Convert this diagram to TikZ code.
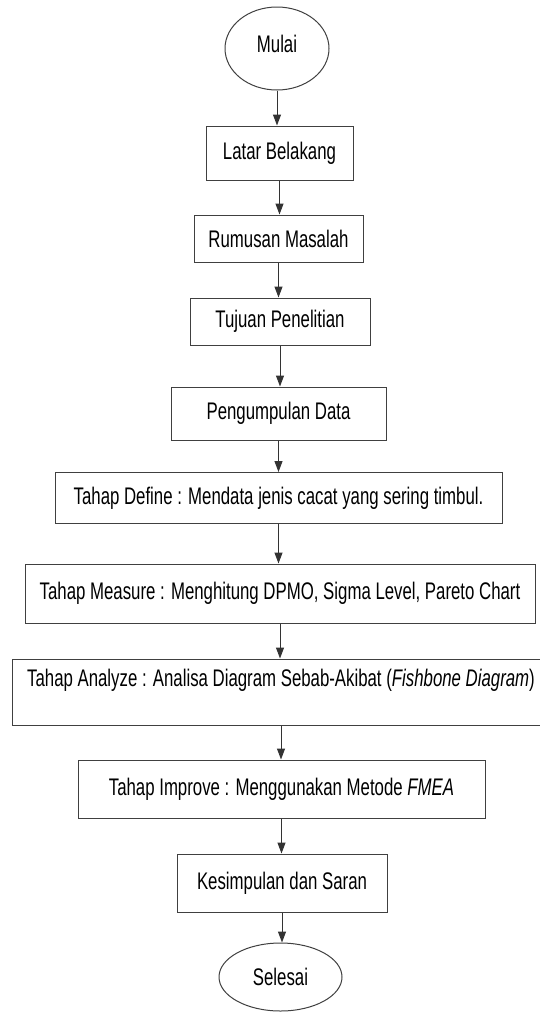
\documentclass[tikz,border=0pt]{standalone}
\usepackage{fontspec}
\setmainfont{Liberation Sans}[FakeStretch=0.70]
\usetikzlibrary{shapes.geometric,arrows.meta}
\tikzset{
  lbl/.style={font=\fontsize{24}{28}\selectfont, align=center, inner sep=0pt, draw=black!75, line width=1pt},
  procbox/.style={lbl, rectangle},
  termnode/.style={lbl, ellipse},
  flowarrow/.style={draw=black!80, line width=1pt, -{Triangle[length=11pt,width=8pt]}}
}
\begin{document}
\begin{tikzpicture}[x=1pt,y=-1pt]
\useasboundingbox (0,0) rectangle (539,1012);
\fill[white] (0,0) rectangle (539,1012);
\node[termnode, minimum width=104pt, minimum height=83pt, text depth=9pt] (mulai) at (277,48.5) {Mulai};
\node[procbox, minimum width=147pt, minimum height=54pt] (latar) at (279.5,153) {Latar Belakang};
\node[procbox, minimum width=169pt, minimum height=47pt] (rumusan) at (278.5,238.5) {Rumusan Masalah};
\node[procbox, minimum width=180pt, minimum height=47pt] (tujuan) at (280,321.5) {Tujuan Penelitian};
\node[procbox, minimum width=215pt, minimum height=53pt] (kumpul) at (278.5,413.5) {Pengumpulan Data};
\node[procbox, minimum width=447pt, minimum height=51pt] (define) at (278.5,498) {Tahap Define : Mendata jenis cacat yang sering timbul.};
\node[procbox, minimum width=510pt, minimum height=59pt] (measure) at (280,593.5) {Tahap Measure : Menghitung DPMO, Sigma Level, Pareto Chart};
\node[procbox, minimum width=537pt, minimum height=66pt, text depth=29pt] (analyze) at (281,692) {Tahap Analyze : Analisa Diagram Sebab-Akibat (\textit{Fishbone Diagram})};
\node[procbox, minimum width=407pt, minimum height=58pt] (improve) at (281.5,789) {Tahap Improve : Menggunakan Metode \textit{FMEA}};
\node[procbox, minimum width=210pt, minimum height=58pt] (simpul) at (282,883) {Kesimpulan dan Saran};
\node[termnode, minimum width=123pt, minimum height=68pt] (selesai) at (280.5,977) {Selesai};
\draw[flowarrow] (mulai.south) -- (mulai.south |- latar.north);
\draw[flowarrow] (latar.south) -- (latar.south |- rumusan.north);
\draw[flowarrow] (rumusan.south) -- (rumusan.south |- tujuan.north);
\draw[flowarrow] (tujuan.south) -- (tujuan.south |- kumpul.north);
\draw[flowarrow] (kumpul.south) -- (kumpul.south |- define.north);
\draw[flowarrow] (define.south) -- (define.south |- measure.north);
\draw[flowarrow] (measure.south) -- (measure.south |- analyze.north);
\draw[flowarrow] (analyze.south) -- (analyze.south |- improve.north);
\draw[flowarrow] (improve.south) -- (improve.south |- simpul.north);
\draw[flowarrow] (simpul.south) -- (simpul.south |- selesai.north);
\end{tikzpicture}
\end{document}
